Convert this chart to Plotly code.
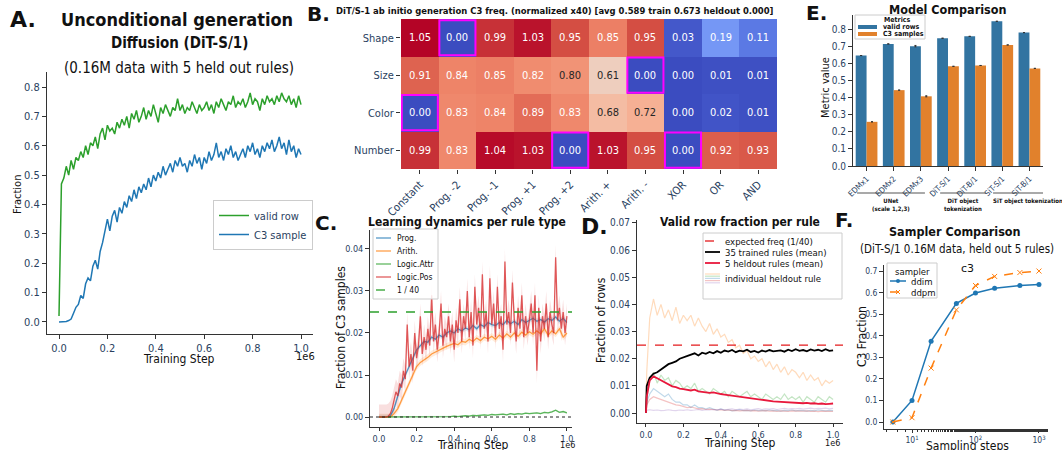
import plotly.graph_objects as go

W, H = 1062, 450
COND = "DejaVu Sans Condensed, DejaVu Sans, sans-serif"
DVC = "DejaVu Sans Condensed, DejaVu Sans, sans-serif"
DV = "DejaVu Sans, sans-serif"

# ---------------- Panel A data ----------------
a_steps = [i / 100 for i in range(101)]  # training step (x 1e6)
a_valid = [0.02, 0.47, 0.49, 0.53, 0.50, 0.55, 0.52, 0.56, 0.55, 0.58,
           0.56, 0.60, 0.57, 0.61, 0.60, 0.63, 0.59, 0.64, 0.66, 0.62,
           0.67, 0.65, 0.66, 0.64, 0.68, 0.66, 0.69, 0.67, 0.70, 0.66,
           0.71, 0.69, 0.72, 0.68, 0.70, 0.73, 0.69, 0.72, 0.70, 0.74,
           0.71, 0.68, 0.73, 0.71, 0.74, 0.72, 0.70, 0.73, 0.72, 0.76,
           0.72, 0.74, 0.71, 0.73, 0.72, 0.75, 0.73, 0.71, 0.74, 0.72,
           0.73, 0.75, 0.72, 0.74, 0.71, 0.75, 0.73, 0.76, 0.74, 0.72,
           0.75, 0.74, 0.77, 0.73, 0.75, 0.74, 0.76, 0.73, 0.75, 0.78,
           0.74, 0.76, 0.75, 0.72, 0.76, 0.74, 0.77, 0.75, 0.76, 0.74,
           0.77, 0.75, 0.78, 0.76, 0.75, 0.77, 0.74, 0.76, 0.73, 0.77,
           0.74]
a_c3 = [0.00, 0.00, 0.00, 0.002, 0.005, 0.01, 0.03, 0.05, 0.06, 0.09,
        0.08, 0.13, 0.15, 0.14, 0.19, 0.21, 0.18, 0.24, 0.27, 0.31,
        0.35, 0.31, 0.36, 0.38, 0.34, 0.39, 0.37, 0.41, 0.39, 0.43,
        0.41, 0.45, 0.42, 0.46, 0.44, 0.47, 0.45, 0.49, 0.46, 0.50,
        0.48, 0.51, 0.49, 0.53, 0.50, 0.52, 0.54, 0.51, 0.55, 0.53,
        0.56, 0.53, 0.54, 0.51, 0.55, 0.53, 0.57, 0.54, 0.56, 0.52,
        0.56, 0.54, 0.58, 0.55, 0.57, 0.61, 0.56, 0.58, 0.55, 0.59,
        0.57, 0.60, 0.56, 0.58, 0.55, 0.57, 0.59, 0.56, 0.60, 0.58,
        0.61, 0.57, 0.59, 0.56, 0.60, 0.58, 0.61, 0.59, 0.62, 0.58,
        0.60, 0.63, 0.59, 0.61, 0.57, 0.62, 0.58, 0.60, 0.56, 0.59,
        0.57]

# ---------------- Panel B data ----------------
b_cols = ["Constant", "Prog. -2", "Prog. -1", "Prog. +1", "Prog. +2",
          "Arith. +", "Arith. -", "XOR", "OR", "AND"]
b_rows = ["Shape", "Size", "Color", "Number"]
b_shape = [1.05, 0.00, 0.99, 1.03, 0.95, 0.85, 0.95, 0.03, 0.19, 0.11]
b_size = [0.91, 0.84, 0.85, 0.82, 0.80, 0.61, 0.00, 0.00, 0.01, 0.01]
b_color = [0.00, 0.83, 0.84, 0.89, 0.83, 0.68, 0.72, 0.00, 0.02, 0.01]
b_number = [0.99, 0.83, 1.04, 1.03, 0.00, 1.03, 0.95, 0.00, 0.92, 0.93]
b_heldout = [("Shape", "Prog. -2"), ("Size", "Arith. -"), ("Color", "Constant"),
             ("Number", "Prog. +2"), ("Number", "XOR")]
b_title = "DiT/S-1 ab initio generation C3 freq. (normalized x40) [avg 0.589 train 0.673 heldout 0.000]"

# ---------------- Panel C data ----------------
c_steps = [i / 50 for i in range(51)]
c_prog = [0, 0, 0, 0.0002, 0.002, 0.005, 0.008, 0.010, 0.012, 0.014,
          0.016, 0.017, 0.018, 0.0178, 0.019, 0.0185, 0.0195, 0.019, 0.020, 0.0205,
          0.020, 0.021, 0.0205, 0.0212, 0.0208, 0.0218, 0.021, 0.022, 0.0215, 0.0225,
          0.022, 0.0218, 0.0225, 0.022, 0.023, 0.0222, 0.0228, 0.022, 0.0232, 0.0225,
          0.023, 0.0235, 0.0228, 0.0232, 0.0226, 0.0234, 0.023, 0.0238, 0.0228, 0.0235,
          0.0225]
c_arith = [0, 0, 0, 0, 0.0008, 0.002, 0.004, 0.006, 0.008, 0.010,
           0.012, 0.013, 0.0135, 0.0142, 0.015, 0.0155, 0.016, 0.0165, 0.0168, 0.0172,
           0.0175, 0.0172, 0.018, 0.0178, 0.0185, 0.018, 0.0188, 0.0182, 0.019, 0.0186,
           0.0192, 0.0185, 0.0195, 0.0188, 0.0198, 0.019, 0.020, 0.0192, 0.0202, 0.0195,
           0.0203, 0.0197, 0.0205, 0.0198, 0.021, 0.0195, 0.0205, 0.0198, 0.021, 0.019,
           0.020]
c_attr = [0, 0, 0, 0, 0, 0, 0, 0, 0, 0,
          0, 0, 0, 0, 0, 0, 0.0001, 0, 0.0001, 0.0001,
          0.0002, 0.0001, 0.0002, 0.0003, 0.0002, 0.0004, 0.0003, 0.0004, 0.0005, 0.0004,
          0.0006, 0.0005, 0.0006, 0.0007, 0.0005, 0.0008, 0.0006, 0.0008, 0.0007, 0.0009,
          0.0008, 0.0009, 0.0010, 0.0008, 0.0011, 0.0010, 0.0012, 0.0016, 0.0011, 0.0013,
          0.0010]
c_pos_steps = [i / 100 for i in range(101)]
c_pos = [0, 0, 0, 0, 0, 0.0002, 0.0008, 0.002, 0.004, 0.006,
         0.005, 0.008, 0.007, 0.011, 0.009, 0.022, 0.012, 0.015, 0.011, 0.020,
         0.014, 0.017, 0.024, 0.015, 0.019, 0.016, 0.021, 0.017, 0.029, 0.018,
         0.022, 0.016, 0.020, 0.027, 0.017, 0.021, 0.019, 0.024, 0.018, 0.022,
         0.016, 0.023, 0.020, 0.028, 0.018, 0.024, 0.021, 0.030, 0.019, 0.025,
         0.017, 0.031, 0.022, 0.026, 0.019, 0.034, 0.021, 0.025, 0.018, 0.033,
         0.022, 0.027, 0.019, 0.031, 0.021, 0.024, 0.016, 0.037, 0.022, 0.025,
         0.020, 0.032, 0.023, 0.018, 0.026, 0.021, 0.029, 0.019, 0.024, 0.020,
         0.023, 0.027, 0.020, 0.029, 0.011, 0.026, 0.018, 0.024, 0.021, 0.027,
         0.019, 0.025, 0.022, 0.020, 0.038, 0.023, 0.026, 0.021, 0.025, 0.020,
         0.024]
c_band = {"Prog.": 0.0006, "Arith.": 0.0008, "Logic.Attr": 0.0002, "Logic.Pos": 0.003}
c_expected = 1 / 40

# ---------------- Panel D data ----------------
d_steps = [0, 0.004] + [k / 50 for k in range(1, 51)]
d_trained = [0, 0.010,
             0.013, 0.0145, 0.015, 0.016, 0.0168, 0.018, 0.0185, 0.019, 0.020, 0.0205,
             0.021, 0.0215, 0.022, 0.0212, 0.0222, 0.0218, 0.0225, 0.022, 0.0228, 0.0222,
             0.0230, 0.0226, 0.0232, 0.0224, 0.0230, 0.0227, 0.0233, 0.0225, 0.0229, 0.0223,
             0.0230, 0.0226, 0.0232, 0.0227, 0.0229, 0.0231, 0.0226, 0.0233, 0.0228, 0.0235,
             0.0229, 0.0232, 0.0227, 0.0234, 0.0230, 0.0233, 0.0228, 0.0235, 0.0229, 0.0231]
d_heldout = [0, 0.006,
             0.012, 0.0135, 0.0128, 0.012, 0.0112, 0.0105, 0.0098, 0.0095, 0.0090, 0.0088,
             0.0085, 0.0083, 0.0086, 0.0080, 0.0078, 0.0077, 0.0074, 0.0076, 0.0072, 0.0070,
             0.0068, 0.0066, 0.0064, 0.0061, 0.0060, 0.0058, 0.0055, 0.0053, 0.0051, 0.0049,
             0.0048, 0.0046, 0.0045, 0.0043, 0.0042, 0.0041, 0.0040, 0.0039, 0.0038, 0.0038,
             0.0037, 0.0036, 0.0037, 0.0035, 0.0036, 0.0034, 0.0035, 0.0033, 0.0034, 0.0035]
d_rule_orange = [0, 0.015,
                 0.035, 0.042, 0.036, 0.040, 0.035, 0.038, 0.034, 0.039, 0.033, 0.036,
                 0.034, 0.036, 0.032, 0.035, 0.032, 0.030, 0.033, 0.029, 0.031, 0.028,
                 0.029, 0.026, 0.027, 0.024, 0.025, 0.022, 0.023, 0.020, 0.021, 0.019,
                 0.020, 0.017, 0.019, 0.016, 0.018, 0.015, 0.017, 0.014, 0.016, 0.015,
                 0.013, 0.015, 0.012, 0.014, 0.012, 0.013, 0.010, 0.012, 0.011, 0.012]
d_rule_green = [0, 0.005,
                0.012, 0.015, 0.011, 0.014, 0.012, 0.013, 0.010, 0.012, 0.011, 0.009,
                0.010, 0.009, 0.011, 0.008, 0.009, 0.008, 0.007, 0.009, 0.008, 0.007,
                0.008, 0.006, 0.008, 0.007, 0.006, 0.007, 0.008, 0.006, 0.007, 0.006,
                0.005, 0.007, 0.006, 0.005, 0.006, 0.005, 0.007, 0.005, 0.006, 0.005,
                0.006, 0.004, 0.006, 0.005, 0.004, 0.006, 0.005, 0.004, 0.006, 0.005]
d_rule_blue = [0, 0.004,
               0.007, 0.009, 0.008, 0.007, 0.006, 0.007, 0.005, 0.004, 0.004, 0.003,
               0.003, 0.002, 0.003, 0.002, 0.002, 0.0015, 0.002, 0.0015, 0.001, 0.0015,
               0.001, 0.0012, 0.0008, 0.001, 0.0012, 0.0009, 0.001, 0.0008, 0.0011, 0.0009,
               0.001, 0.0008, 0.0011, 0.0009, 0.001, 0.0007, 0.001, 0.0009, 0.0011, 0.0008,
               0.001, 0.0009, 0.0007, 0.001, 0.0008, 0.0011, 0.0009, 0.0008, 0.001, 0.0009]
d_rule_pink = [0, 0.003,
               0.005, 0.006, 0.0055, 0.005, 0.0045, 0.004, 0.0035, 0.003, 0.0028, 0.0025,
               0.002, 0.0022, 0.0018, 0.0015, 0.0016, 0.0013, 0.0014, 0.0012, 0.0011, 0.0012,
               0.001, 0.0011, 0.0009, 0.001, 0.0008, 0.0009, 0.001, 0.0008, 0.0009, 0.0007,
               0.0008, 0.0009, 0.0007, 0.0008, 0.0006, 0.0008, 0.0007, 0.0006, 0.0008, 0.0007,
               0.0006, 0.0007, 0.0008, 0.0006, 0.0007, 0.0005, 0.0007, 0.0006, 0.0007, 0.0006]
d_rule_purple = [0, 0.001,
                 0.0012, 0.001, 0.0011, 0.0009, 0.001, 0.0012, 0.001, 0.0009, 0.0011, 0.001,
                 0.0012, 0.001, 0.0011, 0.0013, 0.001, 0.0012, 0.0011, 0.0013, 0.0012, 0.0014,
                 0.0012, 0.0013, 0.0015, 0.0012, 0.0014, 0.0013, 0.0015, 0.0012, 0.0014, 0.0016,
                 0.0013, 0.0015, 0.0014, 0.0016, 0.0013, 0.0015, 0.0017, 0.0014, 0.0016, 0.0015,
                 0.0017, 0.0014, 0.0016, 0.0018, 0.0015, 0.0017, 0.0016, 0.0018, 0.0015, 0.0017]
d_expected = 1 / 40

# ---------------- Panel E data ----------------
e_models = ["EDMx1", "EDMx2", "EDMx3", "DiT-S/1", "DiT-B/1", "SiT-S/1", "SiT-B/1"]
e_valid = [0.645, 0.713, 0.700, 0.746, 0.757, 0.845, 0.779]
e_c3 = [0.258, 0.443, 0.407, 0.582, 0.587, 0.707, 0.570]
e_valid_err = [0, 0, 0.004, 0, 0, 0, 0]
e_c3_err = [0, 0, 0.003, 0, 0, 0, 0]
# (label, line start, line end, label centre) in category units
e_groups = [("UNet<br>(scale 1,2,3)", -0.35, 2.15, 0.9),
            ("DiT object<br>tokenization", 2.71, 4.4, 3.55),
            ("SiT object tokenization", 4.66, 6.57, 5.95)]

# ---------------- Panel F data ----------------
f_steps = [5, 10, 20, 50, 100, 200, 500, 1000]
f_ddim = [0.0, 0.10, 0.375, 0.55, 0.598, 0.620, 0.633, 0.638]
f_ddpm = [0.0, 0.02, 0.25, 0.52, 0.633, 0.675, 0.693, 0.700]

# ---------------- helpers ----------------
def dx(a, b):
    return [a / W, b / W]

def dy(top, bottom):
    return [1 - bottom / H, 1 - top / H]

def axis(**kw):
    base = dict(showline=True, linecolor="#333", linewidth=1, ticks="outside",
                ticklen=4, tickwidth=1, tickcolor="#333", showgrid=False,
                zeroline=False, mirror=False, automargin=False)
    base.update(kw)
    return base

shapes = []
ann = []

def T(text, x, y, size, font=COND, bold=False, color="#111", angle=0, xanchor="center"):
    ann.append(dict(text=f"<b>{text}</b>" if bold else text, x=x / W, y=1 - y / H,
                    xref="paper", yref="paper", showarrow=False, xanchor=xanchor,
                    yanchor="middle", textangle=angle,
                    font=dict(family=font, size=size, color=color)))

def P(x0, y0, x1, y1, **kw):
    d = dict(xref="paper", yref="paper", x0=x0 / W, x1=x1 / W, y0=1 - y0 / H, y1=1 - y1 / H,
             layer="above")
    d.update(kw)
    shapes.append(d)

def leg_box(x0, y0, x1, y1):
    P(x0, y0, x1, y1, type="rect", line=dict(color="#cccccc", width=1),
      fillcolor="rgba(255,255,255,0.85)")

def leg_line(x0, x1, y, style):
    P(x0, y, x1, y, type="line", line=style)

fig = go.Figure()

# ---- A ----
fig.add_trace(go.Scatter(x=a_steps, y=a_valid, mode="lines", name="valid row",
                         line=dict(color="#2ca02c", width=1.5), xaxis="x", yaxis="y",
                         legend="legend"))
fig.add_trace(go.Scatter(x=a_steps, y=a_c3, mode="lines", name="C3 sample",
                         line=dict(color="#1f77b4", width=1.5), xaxis="x", yaxis="y",
                         legend="legend"))

# ---- B heatmap ----
coolwarm = [[0.0, "#3b4cc0"], [0.1, "#5977e3"], [0.2, "#7b9ff9"], [0.3, "#9ebeff"],
            [0.4, "#c0d4f5"], [0.5, "#dddcdc"], [0.6, "#f2cbb7"], [0.7, "#f7ac8e"],
            [0.8, "#ee8468"], [0.9, "#d65244"], [1.0, "#b40426"]]
b_z = [b_shape, b_size, b_color, b_number]
fig.add_trace(go.Heatmap(z=b_z, x=b_cols, y=b_rows, colorscale=coolwarm, zmin=0, zmax=1.05,
                         showscale=False, xaxis="x2", yaxis="y2", hoverinfo="skip"))

# ---- C ----
c_series = [("Prog.", c_steps, c_prog, "31,119,180"),
            ("Arith.", c_steps, c_arith, "255,127,14"),
            ("Logic.Attr", c_steps, c_attr, "44,160,44"),
            ("Logic.Pos", c_pos_steps, c_pos, "214,39,40")]
for name, xs, ys, rgb in c_series:
    bw = c_band[name]
    up = [v + bw for v in ys]
    lo = [max(v - bw, 0) for v in ys]
    fig.add_trace(go.Scatter(x=xs + xs[::-1], y=up + lo[::-1], fill="toself",
                             fillcolor=f"rgba({rgb},0.15)", line=dict(width=0),
                             mode="lines", showlegend=False, hoverinfo="skip",
                             xaxis="x3", yaxis="y3"))
c_styles = {}
for name, xs, ys, rgb in c_series:
    c_styles[name] = dict(color=f"rgba({rgb},0.75)", width=1.3)
    fig.add_trace(go.Scatter(x=xs, y=ys, mode="lines", name=name, line=c_styles[name],
                             xaxis="x3", yaxis="y3", showlegend=False))
c_xr = [-0.048, 1.027]
c_styles["1 / 40"] = dict(color="#2ca02c", width=1.3, dash="dash")
fig.add_trace(go.Scatter(x=c_xr, y=[c_expected, c_expected], mode="lines", name="1 / 40",
                         line=c_styles["1 / 40"], xaxis="x3", yaxis="y3", showlegend=False))
fig.add_trace(go.Scatter(x=c_xr, y=[0, 0], mode="lines", showlegend=False,
                         line=dict(color="#222", width=1, dash="dot"),
                         xaxis="x3", yaxis="y3"))

# ---- D ----
d_ind = [(d_rule_orange, "255,127,14"), (d_rule_green, "44,160,44"),
         (d_rule_blue, "31,119,180"), (d_rule_pink, "214,39,40"),
         (d_rule_purple, "148,103,189")]
d_ind_styles = []
for ys, rgb in d_ind:
    st = dict(color=f"rgba({rgb},0.28)", width=1.2)
    d_ind_styles.append(st)
    fig.add_trace(go.Scatter(x=d_steps, y=ys, mode="lines", name="individual heldout rule",
                             line=st, showlegend=False, xaxis="x4", yaxis="y4"))
d_xr = [-0.048, 1.053]
d_exp_style = dict(color="#e41a1c", width=1.3, dash="dash")
d_tr_style = dict(color="black", width=1.8)
d_ho_style = dict(color="#e8183c", width=1.8)
fig.add_trace(go.Scatter(x=d_xr, y=[d_expected, d_expected], mode="lines",
                         name="expected freq (1/40)", line=d_exp_style,
                         xaxis="x4", yaxis="y4", showlegend=False))
fig.add_trace(go.Scatter(x=d_steps, y=d_trained, mode="lines", name="35 trained rules (mean)",
                         line=d_tr_style, xaxis="x4", yaxis="y4", showlegend=False))
fig.add_trace(go.Scatter(x=d_steps, y=d_heldout, mode="lines", name="5 heldout rules (mean)",
                         line=d_ho_style, xaxis="x4", yaxis="y4", showlegend=False))

# ---- E ----
E_BLUE, E_ORANGE = "#3274a1", "#e1812c"
fig.add_trace(go.Bar(x=e_models, y=e_valid, name="valid rows", marker_color=E_BLUE,
                     marker_line_width=0, showlegend=False,
                     error_y=dict(type="data", array=e_valid_err, color="#333", thickness=1, width=1),
                     xaxis="x5", yaxis="y5"))
fig.add_trace(go.Bar(x=e_models, y=e_c3, name="C3 samples", marker_color=E_ORANGE,
                     marker_line_width=0, showlegend=False,
                     error_y=dict(type="data", array=e_c3_err, color="#333", thickness=1, width=1),
                     xaxis="x5", yaxis="y5"))

# ---- F ----
F_BLUE, F_ORANGE = "#1f77b4", "#ff7f0e"
fig.add_trace(go.Scatter(x=f_steps, y=f_ddim, mode="lines+markers", name="ddim",
                         line=dict(color=F_BLUE, width=1.5),
                         marker=dict(symbol="circle", size=5, color=F_BLUE),
                         xaxis="x6", yaxis="y6", showlegend=False))
fig.add_trace(go.Scatter(x=f_steps, y=f_ddpm, mode="lines+markers", name="ddpm",
                         line=dict(color=F_ORANGE, width=1.5, dash="dash"),
                         marker=dict(symbol="x-thin", size=5, line=dict(color=F_ORANGE, width=1)),
                         xaxis="x6", yaxis="y6", showlegend=False))

# ---------------- shapes: heatmap held-out boxes, E group lines ----------------
for r, c in b_heldout:
    ri, ci = b_rows.index(r), b_cols.index(c)
    shapes.append(dict(type="rect", xref="x2", yref="y2", x0=ci - 0.48, x1=ci + 0.48,
                       y0=ri - 0.47, y1=ri + 0.47, line=dict(color="#ff00ff", width=2)))
for label, g0, g1, gc in e_groups:
    shapes.append(dict(type="line", xref="x5", yref="paper", x0=g0, x1=g1,
                       y0=1 - 193 / H, y1=1 - 193 / H, line=dict(color="#555", width=1.2)))
    ann.append(dict(text=f"<b>{label}</b>", x=gc, y=1 - 195 / H, xref="x5",
                    yref="paper", showarrow=False, yanchor="top",
                    font=dict(family=COND, size=6, color="#111")))

# ---------------- text ----------------
# A
T("A.", 23, 20, 22, font=DV, bold=True)
T("Unconditional generation", 177, 19, 18, bold=True)
T("Diffusion (DiT-S/1)", 179, 43, 15, bold=True)
T("(0.16M data with 5 held out rules)", 179, 68, 15)
T("Fraction", 17, 195, 11, angle=-90)
T("Training Step", 179, 359, 12)
T("1e6", 305, 356, 11)
# B
T("B.", 318, 14, 20, font=DV, bold=True)
T(b_title, 555, 10, 9.4, bold=True)
for ri, row in enumerate(b_z):
    for ci, v in enumerate(row):
        col = "#262626" if 0.35 < v < 0.81 else "white"
        ann.append(dict(text=f"{v:.2f}", x=ci, y=ri, xref="x2", yref="y2", showarrow=False,
                        font=dict(family=DVC, size=11, color=col)))
# C
T("C.", 326, 223, 20, font=DV, bold=True)
T("Learning dynamics per rule type", 467, 222, 12, bold=True)
T("Fraction of C3 samples", 341, 328, 12, angle=-90)
T("Training Step", 473, 445, 12)
T("1e6", 567, 445, 9)
leg_box(373, 229, 438, 299)
for i, name in enumerate(["Prog.", "Arith.", "Logic.Attr", "Logic.Pos", "1 / 40"]):
    yy = 238 + 13 * i
    leg_line(376, 391, yy, c_styles[name])
    T(name, 395, yy, 8.5, xanchor="left")
# D
T("D.", 594, 226, 22, font=DV, bold=True)
T("Valid row fraction per rule", 740, 222, 12, bold=True)
T("Fraction of rows", 601, 320, 12, angle=-90)
T("Training Step", 740, 443, 12)
T("1e6", 832, 443, 9)
leg_box(703, 233, 842, 299)
for yy, st, name in [(241, d_exp_style, "expected freq (1/40)"),
                     (252, d_tr_style, "35 trained rules (mean)"),
                     (263, d_ho_style, "5 heldout rules (mean)")]:
    leg_line(705, 720, yy, st)
    T(name, 723, yy, 9.5, font=DVC, xanchor="left")
for k, st in enumerate(d_ind_styles):
    leg_line(705, 720, 274 + 2.2 * k, st)
T("individual heldout rule", 723, 278, 9.5, font=DVC, xanchor="left")
# E
T("E.", 816, 13, 20, font=DV, bold=True)
T("Model Comparison", 948, 9, 12.5, bold=True)
T("Metric value", 825, 88, 11, angle=-90)
leg_box(855, 15, 925, 39)
T("Metrics", 897, 20, 7, bold=True)
P(858, 25, 877, 29, type="rect", line=dict(width=0), fillcolor=E_BLUE)
T("valid rows", 881, 27, 7, bold=True, xanchor="left")
P(858, 32, 877, 36, type="rect", line=dict(width=0), fillcolor=E_ORANGE)
T("C3 samples", 881, 34, 7, bold=True, xanchor="left")
# F
T("F.", 844, 220, 20, font=DV, bold=True)
T("Sampler Comparison", 955, 231, 12.5, bold=True)
T("(DiT-S/1 0.16M data, held out 5 rules)", 957, 249, 11.5)
T("c3", 967, 268, 11, font=DV)
T("C3 Fraction", 862, 337, 12, angle=-90)
T("Sampling steps", 967, 446, 12)
leg_box(887, 263, 937, 298)
T("sampler", 912, 271, 9.5, font=DVC)
leg_line(890, 906, 281, dict(color=F_BLUE, width=1.5))
P(896, 279, 900, 283, type="circle", line=dict(width=0), fillcolor=F_BLUE)
T("ddim", 909, 281, 9.5, font=DVC, xanchor="left")
leg_line(890, 906, 292, dict(color=F_ORANGE, width=1.5, dash="dash"))
P(896, 290, 900, 294, type="line", line=dict(color=F_ORANGE, width=1))
P(896, 294, 900, 290, type="line", line=dict(color=F_ORANGE, width=1))
T("ddpm", 909, 292, 9.5, font=DVC, xanchor="left")

tick01 = [0, 0.2, 0.4, 0.6, 0.8, 1.0]
tick01_t = ["0.0", "0.2", "0.4", "0.6", "0.8", "1.0"]

fig.update_layout(
    width=W, height=H, margin=dict(l=0, r=0, t=0, b=0, autoexpand=False),
    paper_bgcolor="white", plot_bgcolor="white",
    barmode="group", bargap=0.2, bargroupgap=0,
    shapes=shapes, annotations=ann,
    xaxis=axis(domain=dx(47, 313), range=[-0.0496, 1.0496], tickvals=tick01, ticktext=tick01_t,
               tickfont=dict(family=COND, size=11), anchor="y"),
    yaxis=axis(domain=dy(72, 334), range=[-0.0409, 0.8511], dtick=0.1, tickformat=".1f",
               tickfont=dict(family=COND, size=11), anchor="x"),
    xaxis2=dict(domain=dx(401, 777), range=[-0.5, 9.5], anchor="y2", showline=False,
                ticks="outside", ticklen=4, tickcolor="#333", tickangle=-45, automargin=False,
                tickfont=dict(family=COND, size=11), showgrid=False, zeroline=False),
    yaxis2=dict(domain=dy(19, 169), range=[3.5, -0.5], anchor="x2", showline=False,
                ticks="outside", ticklen=4, tickcolor="#333", automargin=False,
                tickfont=dict(family=COND, size=11), showgrid=False, zeroline=False),
    xaxis3=axis(domain=dx(370, 572), range=c_xr, tickvals=tick01, ticktext=tick01_t,
                ticklen=3, tickfont=dict(family=DVC, size=9), anchor="y3"),
    yaxis3=axis(domain=dy(230, 427), range=[-0.00238, 0.04452], dtick=0.01, tickformat=".2f",
                tickfont=dict(family=DVC, size=9), anchor="x3"),
    xaxis4=axis(domain=dx(637, 843), range=d_xr, tickvals=tick01, ticktext=tick01_t,
                ticklen=3, tickfont=dict(family=DVC, size=9), anchor="y4"),
    yaxis4=axis(domain=dy(220, 423), range=[-0.00368, 0.0711], dtick=0.01, tickformat=".2f",
                tickfont=dict(family=DVC, size=10), anchor="x4"),
    xaxis5=axis(domain=dx(853, 1043), range=[-0.5, 6.5], tickangle=-45,
                tickfont=dict(family=COND, size=8), anchor="y5"),
    yaxis5=axis(domain=dy(15, 166), range=[0, 0.8818], dtick=0.1, tickformat=".1f",
                tickfont=dict(family=COND, size=10), anchor="x5"),
    xaxis6=axis(domain=dx(884, 1048), type="log", range=[0.559, 3.142],
                tickvals=[10, 100, 1000], ticktext=["10<sup>1</sup>", "10<sup>2</sup>", "10<sup>3</sup>"],
                ticklen=3, tickfont=dict(family=DVC, size=8.5), anchor="y6",
                minor=dict(ticks="outside", ticklen=2, tickcolor="#333", showgrid=False)),
    yaxis6=axis(domain=dy(265, 429), range=[-0.0324, 0.728], dtick=0.1, tickformat=".1f",
                tickfont=dict(family=DVC, size=8.5), anchor="x6"),
    legend=dict(x=213 / W, y=1 - 200 / H, font=dict(family=COND, size=11),
                bgcolor="rgba(255,255,255,0.85)", bordercolor="#cccccc", borderwidth=1,
                xanchor="left", yanchor="top", tracegroupgap=0, itemwidth=30),
)

fig.write_html("out.html")
